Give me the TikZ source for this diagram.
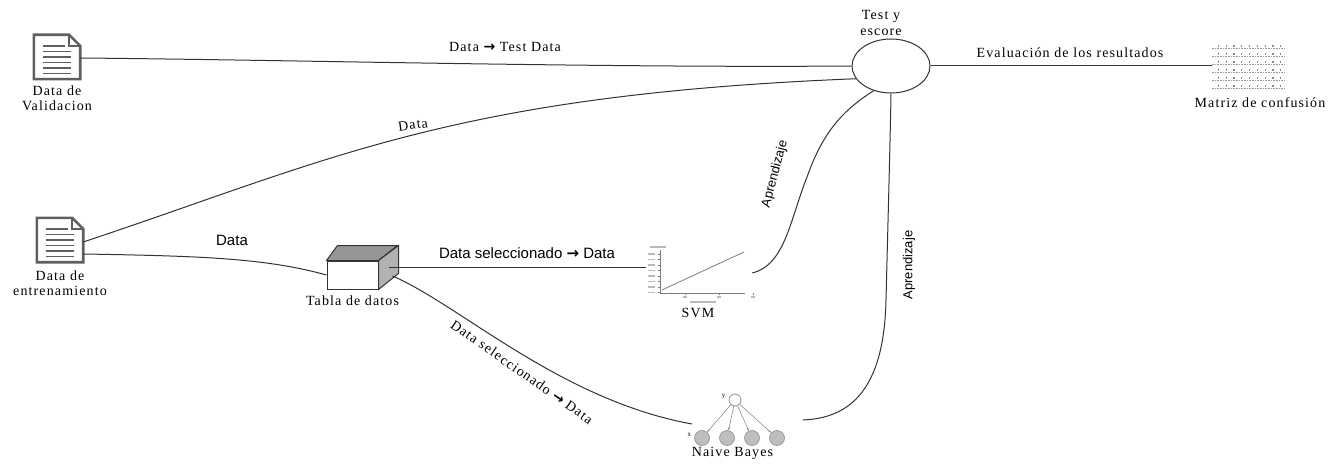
\documentclass[tikz,border=0pt]{standalone}
\usepackage{fontspec}
\setmainfont{Liberation Serif}[LetterSpace=8]
\setsansfont{Liberation Sans}
\newfontfamily\arrowfont{DejaVu Sans}
\usetikzlibrary{positioning,calc,shapes.geometric,arrows.meta}
\definecolor{docgray}{RGB}{95,95,95}
\definecolor{cubetop}{RGB}{150,150,150}
\definecolor{cubeside}{RGB}{178,178,178}
\definecolor{nbgray}{RGB}{190,190,190}
\definecolor{plotgray}{RGB}{125,125,125}
\newcommand{\thickarrow}{{\arrowfont\bfseries →}}

\begin{document}
\begin{tikzpicture}[x=1pt,y=-1pt,
  doc/.style={minimum width=46pt, minimum height=44pt, inner sep=0pt},
  caption/.style={font=\fontsize{14}{15.5}\selectfont, align=center, inner sep=0pt},
  lbl/.style={font=\fontsize{14}{16}\selectfont, inner sep=1pt},
  sflbl/.style={font=\sffamily\fontsize{15}{17}\selectfont, inner sep=1pt},
  learn/.style={font=\sffamily\fontsize{13}{15}\selectfont, inner sep=1pt},
  link/.style={draw=black!80, line width=1pt},
  leaf/.style={circle, draw=gray!90, fill=nbgray, minimum size=15pt, inner sep=0pt, line width=0.6pt},
  tiny/.style={font=\fontsize{7}{8}\selectfont, inner sep=0pt}]
\useasboundingbox (0,0) rectangle (1331,468);

% documentos
\node[doc] (val) at (57,57) {};
\node[doc] (train) at (60,240) {};
\foreach \d in {val,train}{
  \draw[docgray, line width=2.6pt, fill=white] (\d.north west) -- ([xshift=-11pt]\d.north east) -- ([yshift=-11pt]\d.north east) -- (\d.south east) -- (\d.south west) -- cycle;
  \draw[docgray, line width=1.6pt] ([xshift=-11pt]\d.north east) |- ([yshift=-11pt]\d.north east);
  \draw[docgray, line width=1.5pt] ($(\d.north west)+(9,11)$) -- ++(22,0);
  \foreach \k in {1,...,5}
    \draw[docgray, line width=1.5pt] ($(\d.north west)+(9,11+\k*5.5)$) -- ++(28,0);
}
\node[caption, below=6pt of val] (valcap) {Data de\\Validacion};
\node[caption, below=8pt of train] (traincap) {Data de\\entrenamiento};

% test y escore
\node[ellipse, draw=black!80, line width=1pt, minimum width=78pt, minimum height=54pt] (test) at (891,66) {};
\node[caption, above=3pt of test, xshift=-10pt] (testcap) {Test y\\escore};

% tabla de datos
\node[draw=black!80, fill=white, line width=1pt, minimum width=51pt, minimum height=28pt, inner sep=0pt] (tabla) at (352.5,275) {};
\draw[link, fill=cubetop] (tabla.north west) -- ++(11,-15) -- ++(60,0) -- (tabla.north east) -- cycle;
\draw[link, fill=cubeside] (tabla.north east) -- ++(20,-15) -- ++(0,28) -- (tabla.south east) -- cycle;
\node[caption, below=6pt of tabla] (tablacap) {Tabla de datos};
\coordinate (tabout1) at ($(tabla.east)+(10,-8)$);
\coordinate (tabout2) at ($(tabla.east)+(14,1)$);

% svm
\node[minimum width=104pt, minimum height=56pt, inner sep=0pt] (svm) at (698,276) {};
\draw[plotgray, line width=0.7pt] ($(svm)+(-38,-26)$) -- ($(svm)+(-38,17)$) -- ($(svm)+(47,17)$);
\foreach \k in {0,...,7} {
  \draw[plotgray, line width=0.5pt] ($(svm)+(-40,-22+\k*5.5)$) -- ++(2,0);
  \draw[gray!55, line width=1.3pt] ($(svm)+(-50,-22+\k*5.5)$) -- ++(7,0);
}
\foreach \k in {0,1,2} \draw[plotgray, line width=0.5pt] ($(svm)+(-13+\k*34,17)$) -- ++(0,2);
\foreach \k in {0,1,2} \draw[gray!55, line width=1.3pt] ($(svm)+(-15+\k*34,21)$) -- ++(4,0);
\draw[gray!55, line width=1.3pt] ($(svm)+(-8,26)$) -- ++(26,0);
\draw[gray!55, line width=1.3pt] ($(svm)+(-48,-29)$) -- ++(16,0);
\draw[plotgray, line width=0.8pt] ($(svm)+(-36,14)$) -- ($(svm)+(46,-24)$);
\foreach \t in {0.05,0.12,0.2,0.31,0.38,0.45,0.52,0.58,0.63,0.7,0.76,0.83,0.9,0.96}
  \fill[plotgray] ($(svm)+(-36,14)!\t!(46,-24)+(698,276)+(0,1.5)$) circle (1);
\node[caption, below=4pt of svm] (svmcap) {SVM};
\coordinate (svmout) at ($(svm.east)+(2,-3)$);

% naive bayes
\node[circle, draw=gray!90, fill=white, minimum size=12pt, inner sep=0pt, line width=0.8pt] (nbtop) at (735,400) {};
\foreach \i/\xx in {1/702,2/727,3/752,4/777}
  \node[leaf] (leaf\i) at (\xx,438) {};
\foreach \i in {1,...,4}
  \draw[gray!90, line width=0.6pt, -{Stealth[length=3pt]}] (nbtop) -- (leaf\i);
\node[tiny, left=3pt of nbtop, yshift=3pt] (ylab) {y};
\node[tiny, left=3pt of leaf1, yshift=3pt] (xlab) {x};
\node[caption, below=4pt of leaf2.south east] (nbcap) {Naive Bayes};
\coordinate (nbin) at ($(leaf1)+(-10,-14)$);
\coordinate (nbout) at ($(leaf4)+(26,-18)$);

% matriz de confusion
\node[minimum width=72pt, minimum height=48pt, inner sep=0pt] (mat) at (1248,66) {};
\foreach \r in {0,...,5}
  \draw[gray!80, densely dotted, line width=0.6pt] ([yshift=-\r*8pt-7pt]mat.north west) -- ([yshift=-\r*8pt-7pt]mat.north east);
\foreach \r in {0,...,5}
  \foreach \c in {0,...,8}
    \fill[gray!90] ($(mat.north west)+(6+\c*7.8,3.5+\r*8)$) rectangle ++(1.2,2);
\node[caption, below=7pt of mat, xshift=12pt] (matcap) {Matriz de confusión};

% conexiones
\draw[link] ($(val.east)+(0,1)$) .. controls (300,60) and (600,68) .. (test.west);
\draw[link] ($(train.east)+(0,2)$) .. controls (330,160) and (450,95) .. (test.200);
\draw[link] ($(train.east)+(0,14)$) .. controls (200,256) and (265,258) .. (tabla.west);
\draw[link] (tabout1) -- (tabout1 -| svm.west);
\draw[link] (tabout2) .. controls (460,305) and (560,400) .. (nbin);
\draw[link] (svmout) .. controls (785,265) and (790,220) .. (807,177) .. controls (822,135) and (840,112) .. (test.235);
\draw[link] (nbout) .. controls (850,418) and (884,390) .. (886,300) .. controls (888,220) and (890,150) .. (test.south);
\draw[link] (test.east) -- (mat.west);

% etiquetas
\node[lbl] (l1) at (505,47) {Data \thickarrow{} Test Data};
\node[lbl, rotate=8] (l2) at (413,125) {Data};
\node[sflbl] (l3) at (232,240) {Data};
\node[sflbl] (l4) at (527,253) {Data seleccionado \thickarrow{} Data};
\node[lbl, rotate=-35] (l5) at (522,372) {Data seleccionado \thickarrow{} Data};
\node[learn, rotate=75] (l6) at (775,174) {Aprendizaje};
\node[learn, rotate=90] (l7) at (909,265) {Aprendizaje};
\node[lbl] (l8) at (1070,53) {Evaluación de los resultados};
\end{tikzpicture}
\end{document}
